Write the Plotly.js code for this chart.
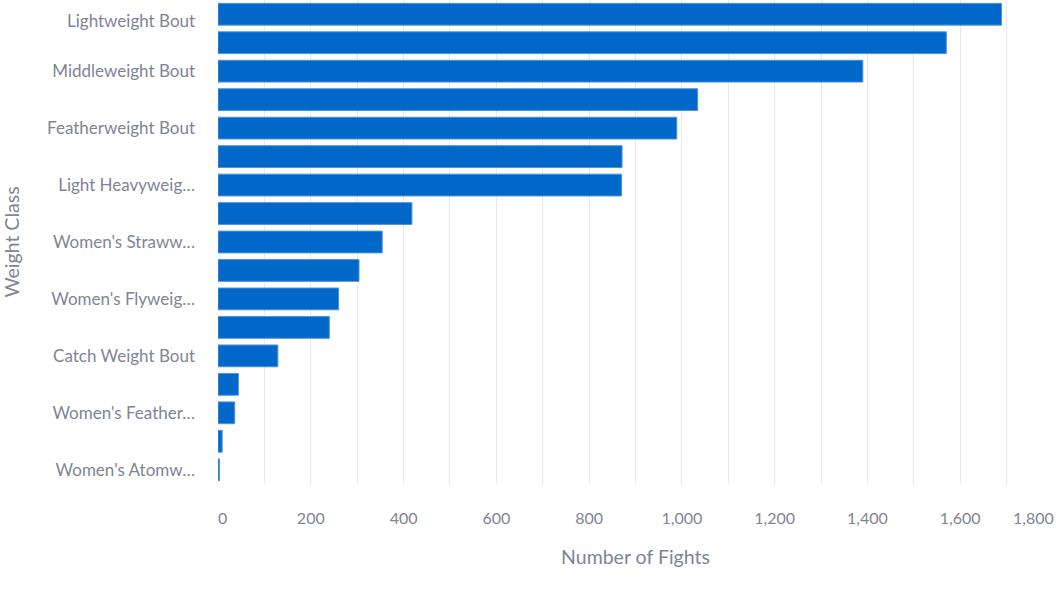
<!DOCTYPE html>
<html>
<head>
<meta charset="utf-8">
<script src="https://cdn.plot.ly/plotly-3.0.1.min.js"></script>
<style>html,body{margin:0;padding:0;background:#fff;}#chart{width:1056px;height:600px;}</style>
</head>
<body>
<div id="chart"></div>
<script>
// Categories (top to bottom) and fight counts
const weightClasses = [
  "Lightweight Bout", "Welterweight Bout", "Middleweight Bout", "Bantamweight Bout",
  "Featherweight Bout", "Heavyweight Bout", "Light Heavyweight Bout", "Flyweight Bout",
  "Women's Strawweight Bout", "Women's Bantamweight Bout", "Women's Flyweight Bout",
  "Open Weight Bout", "Catch Weight Bout", "Super Heavyweight Bout",
  "Women's Featherweight Bout", "UFC Superfight Championship Bout", "Women's Atomweight Bout"
];
const fightCounts = [1689, 1570, 1390, 1034, 989, 871, 870, 418, 354, 304, 260, 240, 129, 44, 36, 9, 3];
// Tick labels as displayed (every other category, truncated)
const yTickLabels = [
  "Lightweight Bout", "Middleweight Bout", "Featherweight Bout", "Light Heavyweig\u2026",
  "Women's Straww\u2026", "Women's Flyweig\u2026", "Catch Weight Bout", "Women's Feather\u2026",
  "Women's Atomw\u2026"
];
const xTickValues = [0, 200, 400, 600, 800, 1000, 1200, 1400, 1600, 1800];

const textColor = '#808495';
const fontFam = 'Lato, "Noto Sans", sans-serif';
const fmt = v => v.toLocaleString('en-US');

const yTickVals = weightClasses.filter((c, i) => i % 2 === 0);
const innerX = xTickValues.slice(1, -1);
const firstX = xTickValues[0];
const lastX = xTickValues[xTickValues.length - 1];

const trace = {
  type: 'bar',
  orientation: 'h',
  y: weightClasses,
  x: fightCounts,
  marker: {color: '#0068c9', line: {color: '#4f93dc', width: 1}},
  hoverinfo: 'x+y'
};

// first y label is pushed down (flush) in the reference: draw it as annotation
const yAxisVals = yTickVals.slice(1);
const yAxisText = yTickLabels.slice(1);

const layout = {
  width: 1056, height: 600,
  margin: {l: 218, r: 3, t: 0, b: 116, autoexpand: false},
  paper_bgcolor: '#fff', plot_bgcolor: '#fff',
  font: {family: fontFam, color: textColor, size: 16},
  bargap: 0.235,
  showlegend: false,
  xaxis: {
    range: [0, 1800],
    automargin: false,
    tickmode: 'array',
    tickvals: innerX,
    ticktext: innerX.map(fmt),
    showgrid: true, gridcolor: '#e6e9ef', gridwidth: 1,
    minor: {dtick: 100, tick0: 0, showgrid: true, gridcolor: '#e6e9ef', gridwidth: 1},
    zeroline: false, showline: false, ticks: '',
    ticklabelstandoff: 23,
    tickfont: {size: 16, color: textColor},
    title: {text: 'Number of Fights', font: {size: 19.5, color: textColor}, standoff: 24}
  },
  yaxis: {
    type: 'category',
    range: [weightClasses.length - 0.5, -0.5],
    autorange: false,
    automargin: false,
    tickmode: 'array',
    tickvals: yAxisVals,
    ticktext: yAxisText,
    showgrid: false, zeroline: false, showline: false, ticks: '',
    ticklabelstandoff: 22,
    tickfont: {size: 17, color: textColor},
    title: {text: 'Weight Class', font: {size: 19.5, color: textColor}, standoff: 22}
  },
  annotations: [{
    x: firstX, xref: 'x', y: 0, yref: 'paper',
    text: fmt(firstX), showarrow: false,
    xanchor: 'left', yanchor: 'middle', yshift: -33, xshift: -2,
    font: {size: 16, color: textColor, family: fontFam}
  }, {
    x: lastX, xref: 'x', y: 0, yref: 'paper',
    text: fmt(lastX), showarrow: false,
    xanchor: 'right', yanchor: 'middle', yshift: -33, xshift: 3,
    font: {size: 16, color: textColor, family: fontFam}
  }, {
    x: 0, xref: 'paper', y: yTickVals[0], yref: 'y',
    text: yTickLabels[0], showarrow: false,
    xanchor: 'right', yanchor: 'middle', xshift: -21, yshift: -6,
    font: {size: 17, color: textColor, family: fontFam}
  }]
};

Plotly.newPlot('chart', [trace], layout, {displayModeBar: false, responsive: false});
</script>
</body>
</html>
